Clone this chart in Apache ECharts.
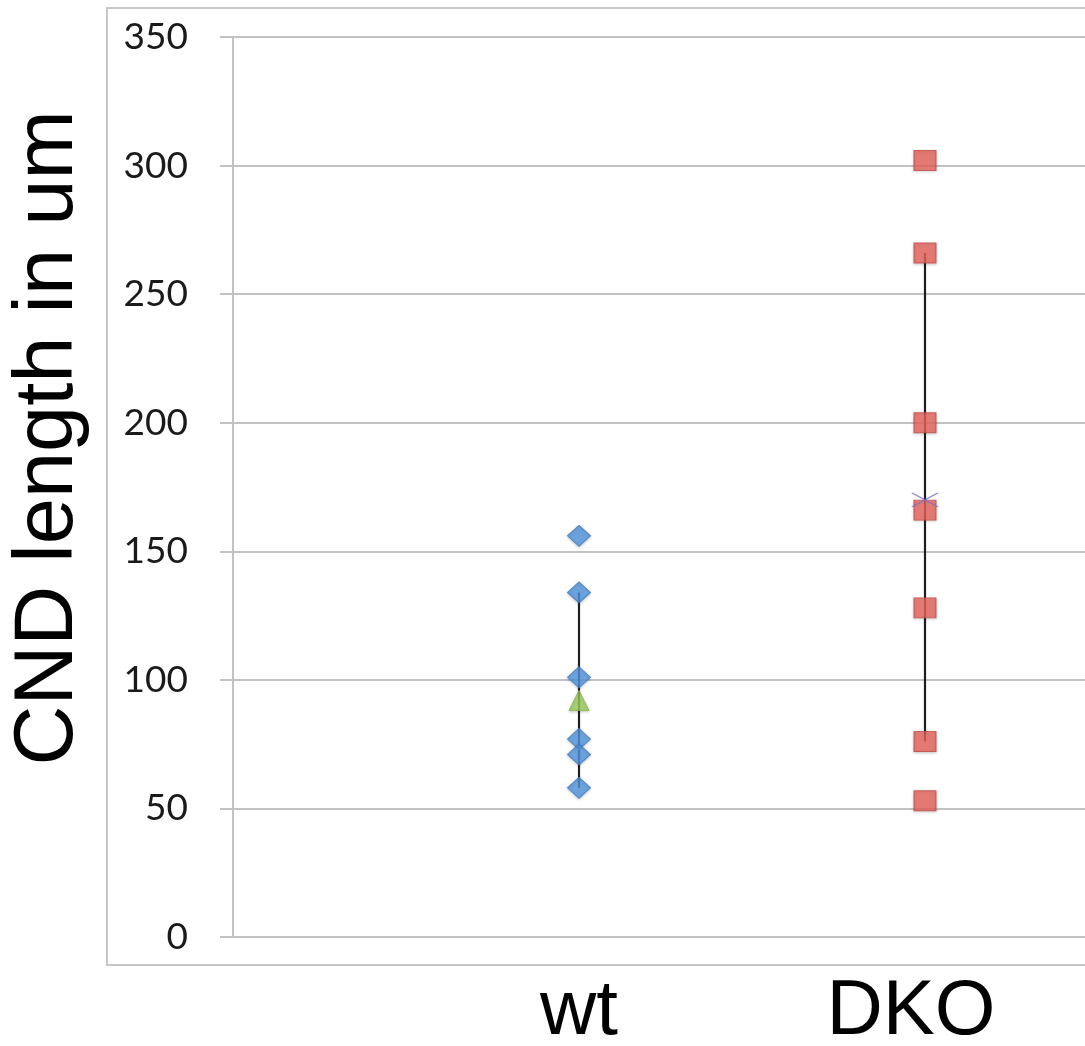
<!DOCTYPE html>
<html>
<head>
<meta charset="utf-8">
<script src="https://cdn.jsdelivr.net/npm/echarts@6/dist/echarts.min.js"></script>
<style>
  html, body { margin: 0; padding: 0; background: #ffffff; }
  #chart { width: 1085px; height: 1046px; }
</style>
</head>
<body>
<div id="chart"></div>
<script>
// ---- data ----
const xCategories = ['', 'wt', 'DKO', ' '];
const yTicks = [0, 50, 100, 150, 200, 250, 300, 350];
const yTitle = 'CND length in um';

const wtValues = [156, 134, 101, 77, 71, 58];
const dkoValues = [302, 266, 200, 166, 128, 76, 53];
const wtMean = 92;
const dkoMean = 170;
const wtBar = [58, 134];
const dkoBar = [76, 266];

// ---- chart ----
const chart = echarts.init(document.getElementById('chart'), null, { renderer: 'canvas' });

const shadow = { shadowBlur: 3, shadowColor: 'rgba(0,0,0,0.25)', shadowOffsetY: 1 };
const catFont = { fontFamily: 'Liberation Sans', fontSize: 78, color: '#000000' };

const option = {
  backgroundColor: '#ffffff',
  animation: false,
  grid: { left: 233, top: 37, bottom: 109, right: -186, containLabel: false, outerBoundsMode: 'none' },
  xAxis: {
    type: 'category',
    data: xCategories,
    boundaryGap: false,
    axisLine: { show: true, lineStyle: { color: '#c2c2c2', width: 2 } },
    axisTick: { show: false },
    splitLine: { show: false },
    axisLabel: Object.assign({
      show: true,
      interval: 0,
      margin: 36,
      formatter: function (v) { return v === 'DKO' ? '{s|' + v + '}' : v; },
      rich: { s: Object.assign({ padding: [0, 28, 0, 0] }, catFont) }
    }, catFont)
  },
  yAxis: {
    type: 'value',
    min: yTicks[0],
    max: yTicks[yTicks.length - 1],
    interval: 50,
    axisLine: { show: true, lineStyle: { color: '#c2c2c2', width: 2 } },
    axisTick: { show: true, inside: false, length: 13, lineStyle: { color: '#c2c2c2', width: 2 } },
    splitLine: { show: true, lineStyle: { color: '#c2c2c2', width: 2 } },
    axisLabel: {
      margin: 45,
      fontFamily: 'Lato',
      fontSize: 37,
      color: '#1a1a1a',
      padding: [10, 0, 0, 0]
    }
  },
  graphic: [
    {
      type: 'rect',
      z: -10,
      shape: { x: 107, y: 8, width: 1200, height: 957 },
      style: { fill: 'none', stroke: '#c6c6c6', lineWidth: 2 }
    },
    {
      type: 'text',
      x: 49,
      y: 438,
      rotation: Math.PI / 2,
      style: {
        text: yTitle,
        fontFamily: 'Liberation Sans',
        fontSize: 83,
        fill: '#000000',
        align: 'center',
        verticalAlign: 'middle'
      }
    }
  ],
  series: [
    {
      type: 'line',
      data: wtBar.map(v => ['wt', v]),
      symbol: 'none',
      lineStyle: { color: '#1e1e1e', width: 2.2 },
      z: 1
    },
    {
      type: 'line',
      data: dkoBar.map(v => ['DKO', v]),
      symbol: 'none',
      lineStyle: { color: '#1e1e1e', width: 2.2 },
      z: 1
    },
    {
      type: 'scatter',
      data: wtValues.map(v => ['wt', v]),
      symbol: 'diamond',
      symbolSize: [23, 21],
      itemStyle: Object.assign({ color: '#5497e0', borderColor: '#3b7bc8', borderWidth: 1 }, shadow),
      z: 3
    },
    {
      type: 'scatter',
      data: dkoValues.map(v => ['DKO', v]),
      symbol: 'rect',
      symbolSize: [22, 20],
      itemStyle: Object.assign({ color: '#e8645c', borderColor: '#c24a44', borderWidth: 1 }, shadow),
      z: 3
    },
    {
      type: 'scatter',
      data: [['wt', wtMean]],
      symbol: 'triangle',
      symbolSize: [20, 20],
      itemStyle: Object.assign({ color: '#9bcf5b', borderColor: '#86b84a', borderWidth: 1 }, shadow),
      z: 4
    },
    {
      type: 'scatter',
      data: [['DKO', dkoMean]],
      symbol: 'path://M0,0L10,10M10,0L0,10',
      symbolSize: [26, 14],
      itemStyle: { color: 'none', borderColor: '#7b6fcc', borderWidth: 1.5 },
      z: 5
    }
  ]
};

chart.setOption(option);
</script>
</body>
</html>
